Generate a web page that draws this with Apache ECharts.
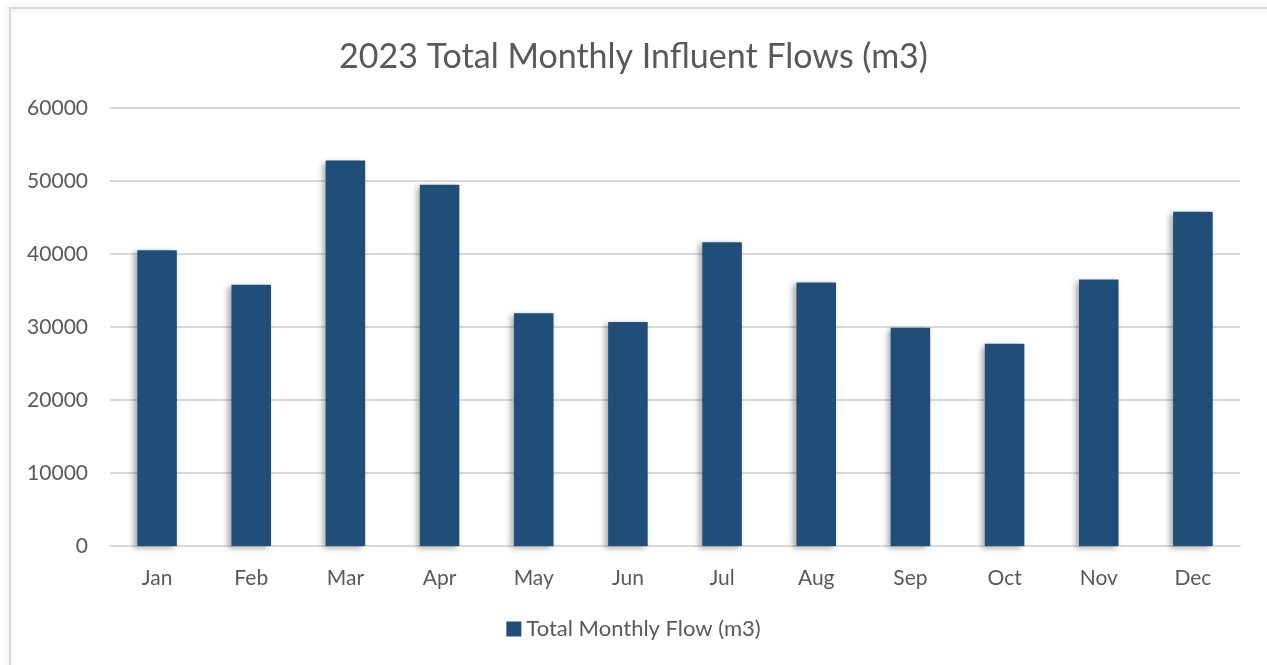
<!DOCTYPE html>
<html>
<head>
<meta charset="utf-8">
<script src="https://cdn.jsdelivr.net/npm/echarts@6/dist/echarts.min.js"></script>
<style>
  html, body { margin: 0; padding: 0; background: #fff; }
  #main { width: 1267px; height: 665px; }
</style>
</head>
<body>
<div id="main"></div>
<script>
// 数据
let months = ['Jan', 'Feb', 'Mar', 'Apr', 'May', 'Jun', 'Jul', 'Aug', 'Sep', 'Oct', 'Nov', 'Dec']
let flows = [40500, 35800, 52800, 49500, 31900, 30700, 41600, 36100, 29900, 27700, 36500, 45800]
let yTicks = [0, 10000, 20000, 30000, 40000, 50000, 60000]
let seriesName = 'Total Monthly Flow (m3)'
let titleText = '2023 Total Monthly Influent Flows (m3)'

let font = 'Lato, "Open Sans", sans-serif'
let myChart = echarts.init(document.getElementById('main'))

let option = {
    backgroundColor: '#fff',
    animation: false,
    // 外边框
    graphic: [{
        type: 'rect',
        shape: { x: 10, y: 8, width: 1300, height: 700 },
        style: { fill: 'none', stroke: '#d9d9d9', lineWidth: 2, shadowBlur: 6, shadowColor: 'rgba(0,0,0,0.15)', shadowOffsetX: -2 },
        silent: true
    }],
    title: {
        text: titleText,
        left: 'center',
        top: 35,
        textStyle: { fontFamily: font, fontSize: 34, fontWeight: 'normal', color: '#595959' }
    },
    legend: {
        bottom: 20,
        left: 'center',
        itemWidth: 15,
        itemHeight: 15,
        itemGap: 6,
        icon: 'rect',
        textStyle: { fontFamily: font, fontSize: 22, color: '#595959' },
        data: [seriesName]
    },
    grid: { left: 110, right: 27, top: 108, bottom: 119, containLabel: false },
    xAxis: {
        type: 'category',
        data: months,
        axisTick: { show: false },
        axisLine: { lineStyle: { color: '#d9d9d9', width: 2 } },
        axisLabel: { fontFamily: font, fontSize: 21, color: '#595959', margin: 22 }
    },
    yAxis: {
        type: 'value',
        min: yTicks[0],
        max: yTicks[yTicks.length - 1],
        interval: 10000,
        axisLabel: {
            fontFamily: font, fontSize: 21, color: '#595959', margin: 22,
            formatter: function (v) { return String(v) }
        },
        splitLine: { lineStyle: { color: '#d9d9d9', width: 2 } }
    },
    series: [{
        name: seriesName,
        type: 'bar',
        data: flows,
        barWidth: '42%',
        itemStyle: {
            color: '#1f4e79',
            shadowBlur: 6,
            shadowColor: 'rgba(0,0,0,0.35)',
            shadowOffsetX: -3,
            shadowOffsetY: 2
        }
    }]
}
myChart.setOption(option)
</script>
</body>
</html>
